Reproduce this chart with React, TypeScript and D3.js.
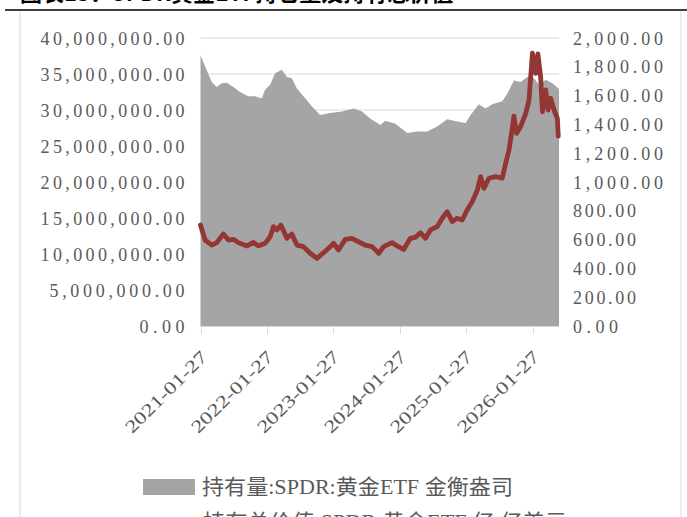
import React from "react";
import * as d3 from "d3";

// Holdings (troy oz) — gray area
const holdDates: string[] = [
  "2021-01-27","2021-03-09","2021-03-30","2021-04-26","2021-05-24","2021-06-20","2021-07-27","2021-09-01",
  "2021-10-17","2021-11-23","2021-12-30","2022-01-17","2022-02-14","2022-03-13","2022-04-19","2022-05-17",
  "2022-06-13","2022-07-11","2022-08-16","2022-10-02","2022-11-16","2023-01-10","2023-03-16","2023-05-19",
  "2023-07-04","2023-08-19","2023-10-13","2023-11-09","2024-01-04","2024-03-08","2024-05-02","2024-06-26",
  "2024-08-20","2024-10-14","2024-12-08","2025-01-23","2025-02-20","2025-04-06","2025-05-13","2025-06-19",
  "2025-08-13","2025-09-10","2025-10-16","2025-11-22","2025-12-29","2026-02-03","2026-03-03","2026-04-09",
  "2026-05-16","2026-06-21"
];
const holdValues: number[] = [
  37.6,35.1,33.9,33.2,33.7,33.8,33.2,32.5,
  31.9,31.9,31.6,32.8,33.5,35.1,35.6,34.6,
  34.4,33.0,31.9,30.5,29.3,29.6,29.8,30.2,
  29.8,28.8,27.9,28.5,28.1,26.8,27.0,27.0,
  27.7,28.7,28.4,28.2,29.3,30.8,30.2,30.8,
  31.2,32.3,34.1,33.9,34.6,34.4,33.5,34.2,
  33.7,32.9
].map((v) => v * 1e6);

// Total value (100M USD) — red line
const valueDates: string[] = [
  "2021-01-27","2021-02-21","2021-03-30","2021-04-26","2021-06-02","2021-06-29","2021-07-27","2021-08-23",
  "2021-10-09","2021-11-14","2021-12-11","2022-01-17","2022-02-14","2022-03-04","2022-03-23","2022-04-14",
  "2022-05-17","2022-06-13","2022-07-11","2022-08-16","2022-09-22","2022-10-29","2022-12-05","2023-01-10",
  "2023-01-29","2023-02-25","2023-04-03","2023-05-10","2023-06-15","2023-07-22","2023-08-28","2023-10-04",
  "2023-10-31","2023-12-16","2024-01-13","2024-02-18","2024-03-26","2024-04-23","2024-05-20","2024-06-17",
  "2024-07-14","2024-08-20","2024-09-17","2024-10-14","2024-11-11","2024-12-08","2025-01-05","2025-02-01",
  "2025-03-01","2025-03-29","2025-04-16","2025-05-04","2025-06-01","2025-07-07","2025-08-13","2025-09-01",
  "2025-09-19","2025-10-07","2025-10-16","2025-10-31","2025-11-22","2025-12-20","2026-01-07","2026-01-26",
  "2026-02-13","2026-02-25","2026-03-12","2026-03-22","2026-04-09","2026-04-22","2026-05-06","2026-05-25",
  "2026-06-12","2026-06-17"
];
const valueValues: number[] = [
  701,597,562,579,639,597,602,579,
  556,581,556,574,620,690,667,701,
  609,639,562,551,505,470,509,551,
  574,528,602,609,585,562,551,505,
  551,579,556,532,609,616,648,609,
  667,690,748,794,725,748,736,806,
  863,944,1037,956,1026,1037,1026,1130,
  1222,1373,1458,1338,1384,1477,1569,1894,
  1755,1889,1731,1488,1639,1500,1581,1500,
  1442,1319
];

const xTickLabels: string[] = ["2021-01-27","2022-01-27","2023-01-27","2024-01-27","2025-01-27","2026-01-27"];
const leftTicks: number[] = [0,5e6,10e6,15e6,20e6,25e6,30e6,35e6,40e6];
const rightTicks: number[] = [0,200,400,600,800,1000,1200,1400,1600,1800,2000];
const legendLabels: string[] = ["持有量:SPDR:黄金ETF 金衡盎司", "持有总价值:SPDR:黄金ETF 亿 亿美元"];
const titleText = "图表13：SPDR黄金ETF持仓量及持有总价值";

const W = 687, H = 517;
const parse = d3.timeParse("%Y-%m-%d");
const fmt2 = d3.format(",.2f");
const TXT = "#595959";
const NUMFONT = "'Liberation Serif', 'DejaVu Serif', serif";
const CJKFONT = "'Liberation Serif', 'Noto Sans CJK SC', serif";

function visualLen(s: string) {
  let n = 0;
  for (const c of s) n += c === "," || c === "." ? 2 : 1;
  return n;
}

export default function App() {
  const x = d3.scaleTime()
    .domain([parse("2021-01-27")!, parse("2026-06-21")!])
    .range([200.5, 559]);
  const yL = d3.scaleLinear().domain([0, 40e6]).range([326, 38]);
  const yR = d3.scaleLinear().domain([0, 2000]).range([326, 38]);

  const hold = holdDates.map((d, i) => ({ d: parse(d)!, v: holdValues[i] }));
  const val = valueDates.map((d, i) => ({ d: parse(d)!, v: valueValues[i] }));

  const area = d3.area<{ d: Date; v: number }>()
    .x((p) => x(p.d)).y0(yL(0)).y1((p) => yL(p.v));
  const line = d3.line<{ d: Date; v: number }>()
    .x((p) => x(p.d)).y((p) => yR(p.v));

  const [x0, x1] = x.range();

  return (
    <div style={{ position: "absolute", left: 0, top: 0 }}>
      <svg width={W} height={H} style={{ display: "block", background: "#fff" }}>
        {/* title fragment and rule */}
        <text x={20} y={1} fontSize={22} fontWeight="bold" fill="#000"
          fontFamily="'Noto Sans CJK SC', sans-serif">{titleText}</text>
        <line x1={5} x2={687} y1={10} y2={10} stroke="#000" strokeWidth={1.6} />
        {/* frame */}
        <line x1={20} x2={20} y1={11} y2={H} stroke="#D9D9D9" strokeWidth={1} />
        <line x1={681} x2={681} y1={11} y2={H} stroke="#D9D9D9" strokeWidth={1} />

        {/* gridlines */}
        {leftTicks.map((t) => (
          <line key={"g" + t} x1={x0} x2={x1} y1={yL(t)} y2={yL(t)} stroke="#D9D9D9" strokeWidth={1} />
        ))}

        <path d={area(hold)!} fill="#A5A5A5" />
        <path d={line(val)!} fill="none" stroke="#943634" strokeWidth={4.8}
          strokeLinejoin="round" strokeLinecap="round" />

        {/* x axis */}
        <line x1={x0} x2={x1} y1={326.5} y2={326.5} stroke="#D9D9D9" strokeWidth={1} />
        {xTickLabels.map((t) => {
          const tx = Math.round(x(parse(t)!)) + 0.5;
          return (
            <g key={t}>
              <line x1={tx} x2={tx} y1={326} y2={334} stroke="#D9D9D9" strokeWidth={1} />
              <text transform={`translate(${tx + 7},${358}) rotate(-45)`} textAnchor="end"
                fontSize={18} fill={TXT} fontFamily={NUMFONT}
                textLength={108} lengthAdjust="spacingAndGlyphs">{t}</text>
            </g>
          );
        })}

        {/* left axis labels */}
        {leftTicks.map((t) => {
          const s = fmt2(t);
          return (
            <text key={"l" + t} x={184.5} y={yL(t) + 6.5} textAnchor="end" fontSize={18}
              fill={TXT} fontFamily={NUMFONT} textLength={visualLen(s) * 9}
              lengthAdjust="spacing">{s}</text>
          );
        })}
        {/* right axis labels */}
        {rightTicks.map((t) => {
          const s = fmt2(t);
          return (
            <text key={"r" + t} x={573} y={yR(t) + 6.5} textAnchor="start" fontSize={18}
              fill={TXT} fontFamily={NUMFONT} textLength={visualLen(s) * 9}
              lengthAdjust="spacing">{s}</text>
          );
        })}

        {/* legend */}
        <rect x={143} y={479} width={52} height={16} fill="#A5A5A5" />
        <text x={202} y={494} fontSize={21} fill={TXT} fontFamily={CJKFONT}
          textLength={311} lengthAdjust="spacingAndGlyphs">{legendLabels[0]}</text>
        <line x1={143} x2={195} y1={522} y2={522} stroke="#943634" strokeWidth={4} />
        <text x={203} y={529} fontSize={21} fill={TXT} fontFamily={CJKFONT}
          textLength={364} lengthAdjust="spacingAndGlyphs">{legendLabels[1]}</text>
      </svg>
    </div>
  );
}
